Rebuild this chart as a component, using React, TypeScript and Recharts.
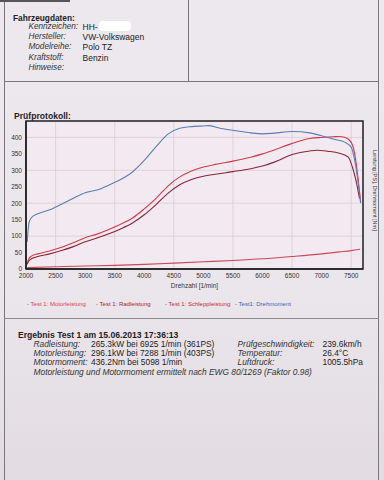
import { LineChart, Line, XAxis, YAxis, CartesianGrid, Legend, ReferenceArea } from "recharts";

const rpmMotor = [2020, 2050, 2100, 2200, 2400, 2600, 2800, 3000, 3200, 3400, 3600, 3800, 4000, 4200, 4400, 4600, 4800, 5000, 5200, 5500, 5800, 6000, 6200, 6500, 6800, 7000, 7200, 7288, 7400, 7500, 7560, 7620, 7660];
const motorleistung = [18, 32, 40, 46, 55, 66, 80, 95, 106, 120, 136, 155, 183, 215, 252, 280, 298, 310, 318, 328, 340, 350, 362, 382, 397, 400, 402, 403, 400, 385, 350, 270, 205];

const rpmRad = [2020, 2050, 2100, 2200, 2400, 2600, 2800, 3000, 3200, 3400, 3600, 3800, 4000, 4200, 4400, 4600, 4800, 5000, 5200, 5500, 5800, 6000, 6200, 6500, 6800, 6925, 7100, 7300, 7450, 7520, 7580, 7640];
const radleistung = [14, 25, 32, 38, 46, 56, 68, 83, 94, 107, 122, 140, 165, 196, 230, 256, 272, 282, 288, 296, 305, 313, 325, 348, 359, 361, 358, 352, 340, 310, 270, 215];

const rpmSchlepp = [2020, 2500, 3000, 3500, 4000, 4500, 5000, 5500, 6000, 6500, 7000, 7300, 7500, 7650];
const schleppleistung = [4, 7, 9, 11, 14, 18, 22, 26, 31, 38, 46, 52, 56, 60];

const rpmMoment = [2020, 2050, 2100, 2200, 2400, 2600, 2800, 3000, 3200, 3400, 3600, 3800, 4000, 4200, 4400, 4600, 4800, 5000, 5098, 5300, 5500, 5800, 6000, 6200, 6500, 6800, 7000, 7200, 7400, 7500, 7560, 7620, 7660];
const drehmoment = [82, 140, 158, 168, 180, 197, 215, 232, 240, 255, 272, 295, 330, 372, 410, 428, 433, 435, 436, 427, 422, 414, 411, 413, 418, 414, 405, 395, 385, 370, 330, 260, 200];

const xTicks = [2000, 2500, 3000, 3500, 4000, 4500, 5000, 5500, 6000, 6500, 7000, 7500];
const yTicks = [0, 50, 100, 150, 200, 250, 300, 350, 400];

const zip = (xs: number[], ys: number[]) => xs.map((rpm, i) => ({ rpm, v: ys[i] }));

const series = [
  { name: "Test 1: Motorleistung", data: zip(rpmMotor, motorleistung), stroke: "#d13a4c", text: "#d8404f" },
  { name: "Test 1: Radleistung", data: zip(rpmRad, radleistung), stroke: "#8c2438", text: "#a41d33" },
  { name: "Test 1: Schleppleistung", data: zip(rpmSchlepp, schleppleistung), stroke: "#c9485a", text: "#c81e3c" },
  { name: "Test1: Drehmoment", data: zip(rpmMoment, drehmoment), stroke: "#5a7cb8", text: "#3564ac" },
];

const vehicle = [
  ["Kennzeichen:", "HH-"],
  ["Hersteller:", "VW-Volkswagen"],
  ["Modelreihe:", "Polo TZ"],
  ["Kraftstoff:", "Benzin"],
  ["Hinweise:", ""],
];

const results = [
  ["Radleistung:", "265.3kW bei 6925 1/min (361PS)", "Prüfgeschwindigkeit:", "239.6km/h"],
  ["Motorleistung:", "296.1kW bei 7288 1/min (403PS)", "Temperatur:", "26.4°C"],
  ["Motormoment:", "436.2Nm bei 5098 1/min", "Luftdruck:", "1005.5hPa"],
];

const font = "'Liberation Sans', Arial, sans-serif";

function LegendRow() {
  const lefts = [27, 96, 165, 235];
  return (
    <div style={{ position: "relative", width: 370, height: 10 }}>
      {series.map((s, i) => (
        <span key={s.name} style={{ position: "absolute", left: lefts[i], top: 0, fontSize: 6, color: s.text, whiteSpace: "nowrap" }}>
          <span style={{ color: "#c03040" }}>-</span> {s.name}
        </span>
      ))}
    </div>
  );
}

export default function App() {
  const abs = (left: number, top: number, extra: object = {}) => ({ position: "absolute" as const, left, top, whiteSpace: "nowrap" as const, ...extra });
  return (
    <div style={{ position: "absolute", left: 0, top: 0, width: 384, height: 480, overflow: "hidden", fontFamily: font, color: "#222",
      background: "linear-gradient(180deg, #ece8ee 0%, #ebe6ec 60%, #e2dce2 100%)" }}>
      {/* Rahmenlinien */}
      <div style={abs(4, 0, { width: 1, height: 480, background: "#7a7680" })} />
      <div style={abs(378, 0, { width: 1, height: 480, background: "#7a7680" })} />
      <div style={abs(188, 0, { width: 1, height: 82, background: "#7a7680" })} />
      <div style={abs(4, 81, { width: 375, height: 1, background: "#7a7680" })} />
      <div style={abs(4, 318, { width: 375, height: 1, background: "#8a8690" })} />
      <div style={abs(0, 0, { width: 70, height: 2, background: "#555" })} />

      <div style={abs(13, 13, { fontSize: 8.3, fontWeight: "bold" })}>Fahrzeugdaten:</div>
      {vehicle.map((r, i) => (
        <div key={r[0]}>
          <div style={abs(28.5, 22 + i * 10.2, { fontSize: 8.2, fontStyle: "italic", color: "#333" })}>{r[0]}</div>
          <div style={abs(82.5, 22 + i * 10.2, { fontSize: 8.5, color: "#222" })}>{r[1]}</div>
        </div>
      ))}
      <div style={abs(99, 21, { width: 32, height: 10, borderRadius: 4, background: "#ffffff" })} />

      <div style={abs(14, 111, { fontSize: 8.6, fontWeight: "bold" })}>Prüfprotokoll:</div>

      <div style={abs(0, 116)}>
        <LineChart width={370} height={197} data={series[0].data} margin={{ top: 5, right: 7, bottom: 0, left: 0 }}>
          <CartesianGrid stroke="#d7c9d2" strokeWidth={0.7} fill="#f2eaf0" />
          <XAxis dataKey="rpm" type="number" domain={[2000, 7700]} ticks={xTicks} tickSize={0} tickMargin={4}
            tick={{ fontSize: 6.5, fill: "#333" }} axisLine={{ stroke: "#222", strokeWidth: 1.5 }} height={34}
            label={{ value: "Drehzahl [1/min]", position: "insideTop", offset: 14, fontSize: 6.5, fill: "#333" }} />
          <YAxis type="number" domain={[0, 450]} ticks={yTicks} tickSize={0} tickMargin={4} width={26}
            tick={{ fontSize: 6.5, fill: "#333" }} axisLine={{ stroke: "#222", strokeWidth: 1.5 }} />
          <ReferenceArea x1={2000} x2={7700} y1={0} y2={450} fill="none" stroke="#222" strokeWidth={1.5} />
          {series.map((s) => (
            <Line key={s.name} data={s.data} dataKey="v" name={s.name} type="monotone" stroke={s.stroke}
              strokeWidth={1.1} dot={false} isAnimationActive={false} />
          ))}
          <Legend verticalAlign="bottom" content={() => <LegendRow />} wrapperStyle={{ left: 0, bottom: 2 }} />
        </LineChart>
      </div>

      <div style={abs(372, 150, { fontSize: 5.5, color: "#333", writingMode: "vertical-rl" })}>Leistung [PS], Drehmoment [Nm]</div>

      <div style={abs(18, 330, { fontSize: 8.6, fontWeight: "bold" })}>Ergebnis Test 1 am 15.06.2013 17:36:13</div>
      {results.map((r, i) => (
        <div key={r[0]}>
          <div style={abs(33.5, 338.5 + i * 9.4, { fontSize: 8.4, fontStyle: "italic", color: "#333" })}>{r[0]}</div>
          <div style={abs(91, 338.5 + i * 9.4, { fontSize: 8.4 })}>{r[1]}</div>
          <div style={abs(237.5, 338.5 + i * 9.4, { fontSize: 8.4, fontStyle: "italic", color: "#333" })}>{r[2]}</div>
          <div style={abs(322.5, 338.5 + i * 9.4, { fontSize: 8.4 })}>{r[3]}</div>
        </div>
      ))}
      <div style={abs(33.5, 366.7, { fontSize: 8.4, fontStyle: "italic", color: "#333" })}>
        Motorleistung und Motormoment ermittelt nach EWG 80/1269 (Faktor 0.98)
      </div>
    </div>
  );
}
